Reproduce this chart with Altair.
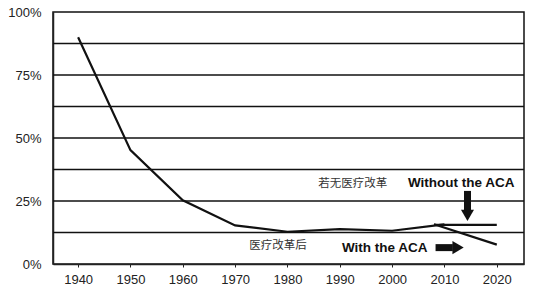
import altair as alt
import pandas as pd

# Main series (share of population uninsured, %)
years_main = [1940, 1950, 1960, 1970, 1980, 1990, 2000, 2010]
values_main = [0.90, 0.452, 0.253, 0.153, 0.128, 0.138, 0.132, 0.157]

# Branches after 2010
years_without = [2008, 2020]
values_without = [0.155, 0.155]
years_with = [2008, 2020]
values_with = [0.158, 0.077]

x_ticks = [1940, 1950, 1960, 1970, 1980, 1990, 2000, 2010, 2020]
y_ticks = [0, 0.25, 0.5, 0.75, 1.0]
grid_values = [0.125, 0.25, 0.375, 0.5, 0.625, 0.75, 0.875]

# Annotations
cn_labels = ["若无医疗改革", "医疗改革后"]
cn_x = [1992.5, 1978.2]
cn_y = [0.319, 0.073]
en_labels = ["Without the ACA", "With the ACA"]
en_x = [2013.2, 1998.6]
en_y = [0.32, 0.065]

df_main = pd.DataFrame({"year": years_main, "v": values_main})
df_without = pd.DataFrame({"year": years_without, "v": values_without})
df_with = pd.DataFrame({"year": years_with, "v": values_with})
df_cn = pd.DataFrame({"year": cn_x, "v": cn_y, "t": cn_labels})
df_en = pd.DataFrame({"year": en_x, "v": en_y, "t": en_labels})
df_grid = pd.DataFrame({"v": grid_values})

# arrows (data units)
df_down_shaft = pd.DataFrame({"year": [2014.4], "v": [0.29], "v2": [0.205]})
df_down_head = pd.DataFrame({"year": [2014.4], "v": [0.193]})
df_right_shaft = pd.DataFrame({"year": [2008.3], "year2": [2011.6], "v": [0.065]})
df_right_head = pd.DataFrame({"year": [2012.6], "v": [0.065]})

xs = alt.Scale(domain=[1935.2, 2025.2], nice=False, zero=False)
ys = alt.Scale(domain=[0, 1], nice=False)

x_axis = alt.Axis(values=x_ticks, format="d", title=None, grid=False,
                  labelFont="Liberation Sans", labelFontSize=13, labelColor="#222",
                  tickColor="#222", tickSize=3, domainColor="#222", domainWidth=1.5,
                  labelPadding=6)
y_axis = alt.Axis(values=y_ticks, format=".0%", title=None, grid=False,
                  ticks=False, domainColor="#222", domainWidth=1.5,
                  labelFont="Liberation Sans", labelFontSize=13, labelColor="#222",
                  labelPadding=12)

grid = alt.Chart(df_grid).mark_rule(color="#111", strokeWidth=1.4).encode(
    y=alt.Y("v:Q", scale=ys, axis=y_axis))

main = alt.Chart(df_main).mark_line(color="#111", strokeWidth=2.2).encode(
    x=alt.X("year:Q", scale=xs, axis=x_axis), y=alt.Y("v:Q", scale=ys))
without = alt.Chart(df_without).mark_line(color="#111", strokeWidth=2.2).encode(
    x=alt.X("year:Q", scale=xs), y=alt.Y("v:Q", scale=ys))
with_ = alt.Chart(df_with).mark_line(color="#111", strokeWidth=2.2).encode(
    x=alt.X("year:Q", scale=xs), y=alt.Y("v:Q", scale=ys))

cn = alt.Chart(df_cn).mark_text(font="Noto Sans CJK SC", fontSize=11.5, color="#333").encode(
    x=alt.X("year:Q", scale=xs), y=alt.Y("v:Q", scale=ys), text="t:N")
en = alt.Chart(df_en).mark_text(font="Liberation Sans", fontWeight="bold", fontSize=13.5,
                                color="#111").encode(
    x=alt.X("year:Q", scale=xs), y=alt.Y("v:Q", scale=ys), text="t:N")

down_shaft = alt.Chart(df_down_shaft).mark_rule(color="#111", strokeWidth=7).encode(
    x=alt.X("year:Q", scale=xs), y=alt.Y("v:Q", scale=ys), y2="v2:Q")
down_head = alt.Chart(df_down_head).mark_point(shape="triangle-down", filled=True, color="#111",
                                               size=170, opacity=1).encode(
    x=alt.X("year:Q", scale=xs), y=alt.Y("v:Q", scale=ys))
right_shaft = alt.Chart(df_right_shaft).mark_rule(color="#111", strokeWidth=7).encode(
    x=alt.X("year:Q", scale=xs), x2="year2:Q", y=alt.Y("v:Q", scale=ys))
right_head = alt.Chart(df_right_head).mark_point(shape="triangle-right", filled=True, color="#111",
                                                 size=170, opacity=1).encode(
    x=alt.X("year:Q", scale=xs), y=alt.Y("v:Q", scale=ys))

chart = alt.layer(grid, main, without, with_, cn, en, down_shaft, down_head,
                  right_shaft, right_head).properties(
    width=471, height=252,
    padding={"left": 53, "top": 12, "right": 26, "bottom": 41},
    autosize=alt.AutoSizeParams(type="none"),
    background="white",
).configure_view(stroke="#111", strokeWidth=1.5)

chart.save("out.html", embed_options={"renderer": "svg", "actions": False})
